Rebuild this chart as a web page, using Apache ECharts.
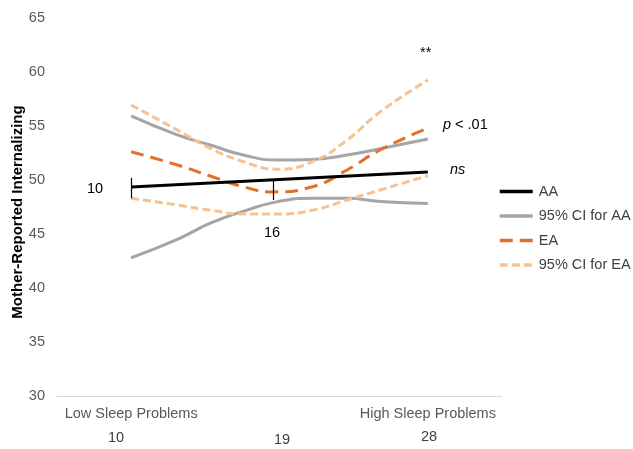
<!DOCTYPE html>
<html>
<head>
<meta charset="utf-8">
<script src="https://cdn.jsdelivr.net/npm/echarts@6/dist/echarts.min.js"></script>
<style>
  html, body { margin: 0; padding: 0; background: #fff; }
  #chart { width: 633px; height: 449px; }
</style>
</head>
<body>
<div id="chart"></div>
<script>
// sleep problems (x) and internalizing (y)
var aaX = [10, 28];
var aaY = [49.35, 50.74];

var ciAaX = [10, 12.8, 14.8, 16.8, 18.9, 21, 23.1, 25.1, 28];
var ciAaHigh = [55.93, 54.17, 53.24, 52.31, 51.85, 51.9, 52.31, 52.9, 53.8];
var ciAaLow = [42.8, 44.5, 46.0, 47.1, 48.0, 48.3, 48.3, 48.0, 47.83];

var eaX = [10, 12.8, 14.8, 16.8, 18.6, 21, 23.1, 25.1, 28];
var eaY = [52.62, 51.39, 50.37, 49.38, 48.9, 49.38, 50.93, 52.78, 54.8];

var ciEaX = [10, 12.8, 14.8, 16.8, 18.9, 21, 23.1, 25.1, 28];
var ciEaHigh = [56.94, 54.63, 52.93, 51.7, 51.0, 51.7, 53.7, 56.3, 59.26];
var ciEaLow = [48.3, 47.69, 47.2, 46.85, 46.85, 47.2, 48.15, 49.07, 50.4];

var yTicks = [30, 65, 5];
var yTitle = 'Mother-Reported Internalizing';
var endLabels = ['Low Sleep Problems', 'High Sleep Problems'];
var sleepTicks = ['10', '19', '28'];
var markX = [10, 18.6];

function pairs(xs, ys) {
    return xs.map(function (x, i) { return [x, ys[i]]; });
}

var font = 'Liberation Sans, Arial, sans-serif';
var textGray = '#595959';

var chart = echarts.init(document.getElementById('chart'));
chart.setOption({
    animation: false,
    textStyle: { fontFamily: font },
    grid: { left: 57, right: 131, top: 18, bottom: 53, containLabel: false, outerBoundsMode: 'none' },
    legend: {
        orient: 'vertical',
        left: 493,
        top: 179,
        itemWidth: 33,
        itemHeight: 12,
        itemGap: 9.5,
        itemStyle: { opacity: 0 },
        lineStyle: { width: 3.5 },
        textStyle: { fontSize: 14.5, color: '#404040', fontFamily: font, padding: [0, 0, 0, 1] },
        data: ['AA', '95% CI for AA', 'EA', '95% CI for EA']
    },
    xAxis: {
        type: 'value',
        min: 5.5,
        max: 32.5,
        splitLine: { show: false },
        axisTick: { show: false },
        axisLine: { show: true, lineStyle: { color: '#d9d9d9', width: 1 } },
        axisLabel: {
            customValues: [aaX[0], aaX[1]],
            formatter: function (v) { return v === aaX[0] ? endLabels[0] : endLabels[1]; },
            fontSize: 14.5,
            color: textGray,
            margin: 10
        }
    },
    yAxis: {
        type: 'value',
        min: yTicks[0],
        max: yTicks[1],
        interval: yTicks[2],
        splitLine: { show: false },
        axisLine: { show: false },
        axisTick: { show: false },
        axisLabel: { fontSize: 14.5, color: textGray, margin: 12 }
    },
    series: [
        {
            name: 'AA', type: 'line', symbol: 'none',
            data: pairs(aaX, aaY),
            lineStyle: { color: '#000', width: 3 },
            itemStyle: { color: '#000' },
            z: 5,
            markLine: {
                symbol: 'none',
                silent: true,
                label: { show: false },
                lineStyle: { color: '#000', width: 1.2, type: 'solid' },
                data: [
                    [{ coord: [markX[0], 48.3] }, { coord: [markX[0], 50.2] }],
                    [{ coord: [markX[1], 48.15] }, { coord: [markX[1], 50.0] }]
                ]
            }
        },
        {
            name: '95% CI for AA', type: 'line', symbol: 'none', smooth: 0.5,
            data: pairs(ciAaX, ciAaHigh),
            lineStyle: { color: '#a5a5a5', width: 3 },
            itemStyle: { color: '#a5a5a5' }
        },
        {
            name: '95% CI for AA', type: 'line', symbol: 'none', smooth: 0.5,
            data: pairs(ciAaX, ciAaLow),
            lineStyle: { color: '#a5a5a5', width: 3 },
            itemStyle: { color: '#a5a5a5' }
        },
        {
            name: 'EA', type: 'line', symbol: 'none', smooth: 0.5,
            data: pairs(eaX, eaY),
            lineStyle: { color: '#e2702a', width: 3, type: [13, 7] },
            itemStyle: { color: '#e2702a' },
            z: 4
        },
        {
            name: '95% CI for EA', type: 'line', symbol: 'none', smooth: 0.5,
            data: pairs(ciEaX, ciEaHigh),
            lineStyle: { color: '#f8c190', width: 3, type: [8, 4] },
            itemStyle: { color: '#f8c190' }
        },
        {
            name: '95% CI for EA', type: 'line', symbol: 'none', smooth: 0.5,
            data: pairs(ciEaX, ciEaLow),
            lineStyle: { color: '#f8c190', width: 3, type: [8, 4] },
            itemStyle: { color: '#f8c190' }
        }
    ],
    graphic: [
        {
            type: 'text', x: 18, y: 212, rotation: Math.PI / 2,
            style: { text: yTitle, font: 'bold 15px ' + font, fill: '#000', align: 'center', verticalAlign: 'middle' }
        },
        { type: 'text', left: 108, top: 430, style: { text: sleepTicks[0], font: '14.5px ' + font, fill: '#404040' } },
        { type: 'text', left: 274, top: 432, style: { text: sleepTicks[1], font: '14.5px ' + font, fill: '#404040' } },
        { type: 'text', left: 421, top: 429, style: { text: sleepTicks[2], font: '14.5px ' + font, fill: '#404040' } },
        { type: 'text', left: 87, top: 181, style: { text: '10', font: '14.5px ' + font, fill: '#000' } },
        { type: 'text', left: 264, top: 225, style: { text: '16', font: '14.5px ' + font, fill: '#000' } },
        { type: 'text', left: 450, top: 162, style: { text: 'ns', font: 'italic 14.5px ' + font, fill: '#000' } },
        { type: 'text', left: 443, top: 117, style: { text: '{i|p} < .01', font: '14.5px ' + font, fill: '#000', rich: { i: { fontStyle: 'italic', fontSize: 14.5, fontFamily: font } } } },
        { type: 'text', left: 420, top: 45, style: { text: '**', font: '14.5px ' + font, fill: '#000' } }
    ]
});
</script>
</body>
</html>
